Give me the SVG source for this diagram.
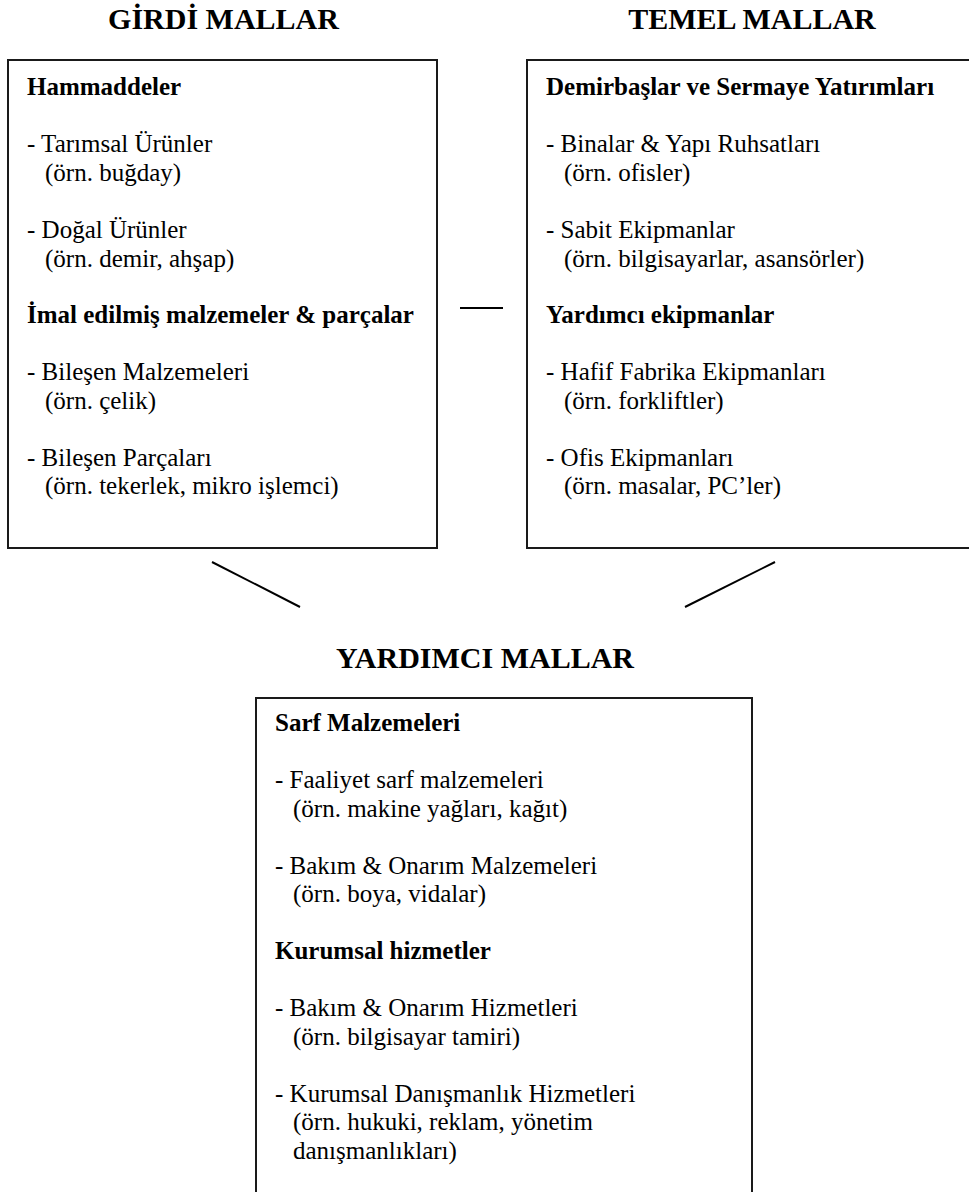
<svg xmlns="http://www.w3.org/2000/svg" width="969" height="1192" viewBox="0 0 969 1192">
<style>
text{font-family:"Liberation Serif","Times New Roman",serif;fill:#000}
.t{font-size:30px;font-weight:bold;text-anchor:middle}
.h{font-size:25px;font-weight:bold}
.b{font-size:25px}
.box{fill:#fff;stroke:#1a1a1a;stroke-width:2}
.ln{stroke:#000;stroke-width:2;fill:none}
</style>
<rect width="969" height="1192" fill="#fff"/>
<g id="girdi">
<text class="t" x="223.5" y="29">GİRDİ MALLAR</text>
<rect class="box" x="8" y="60" width="429" height="488"/>
<text class="h" x="27" y="95">Hammaddeler</text>
<text class="b" x="27" y="152">- Tarımsal Ürünler</text>
<text class="b" x="45" y="180.5">(örn. buğday)</text>
<text class="b" x="27" y="238">- Doğal Ürünler</text>
<text class="b" x="45" y="266.5">(örn. demir, ahşap)</text>
<text class="h" x="27" y="323">İmal edilmiş malzemeler &amp; parçalar</text>
<text class="b" x="27" y="380">- Bileşen Malzemeleri</text>
<text class="b" x="45" y="408.5">(örn. çelik)</text>
<text class="b" x="27" y="465.5">- Bileşen Parçaları</text>
<text class="b" x="45" y="494">(örn. tekerlek, mikro işlemci)</text>
</g>
<g id="temel">
<text class="t" x="752" y="29">TEMEL MALLAR</text>
<rect class="box" x="527" y="60" width="470" height="488"/>
<text class="h" x="546" y="95">Demirbaşlar ve Sermaye Yatırımları</text>
<text class="b" x="546" y="152">- Binalar &amp; Yapı Ruhsatları</text>
<text class="b" x="564" y="180.5">(örn. ofisler)</text>
<text class="b" x="546" y="238">- Sabit Ekipmanlar</text>
<text class="b" x="564" y="266.5">(örn. bilgisayarlar, asansörler)</text>
<text class="h" x="546" y="323">Yardımcı ekipmanlar</text>
<text class="b" x="546" y="380">- Hafif Fabrika Ekipmanları</text>
<text class="b" x="564" y="408.5">(örn. forkliftler)</text>
<text class="b" x="546" y="465.5">- Ofis Ekipmanları</text>
<text class="b" x="564" y="494">(örn. masalar, PC’ler)</text>
</g>
<g id="yardimci">
<text class="t" x="485" y="668">YARDIMCI MALLAR</text>
<rect class="box" x="256" y="698" width="496" height="520"/>
<text class="h" x="275" y="731">Sarf Malzemeleri</text>
<text class="b" x="275" y="788">- Faaliyet sarf malzemeleri</text>
<text class="b" x="293" y="816.5">(örn. makine yağları, kağıt)</text>
<text class="b" x="275" y="873.5">- Bakım &amp; Onarım Malzemeleri</text>
<text class="b" x="293" y="902">(örn. boya, vidalar)</text>
<text class="h" x="275" y="959">Kurumsal hizmetler</text>
<text class="b" x="275" y="1016">- Bakım &amp; Onarım Hizmetleri</text>
<text class="b" x="293" y="1044.5">(örn. bilgisayar tamiri)</text>
<text class="b" x="275" y="1101.5">- Kurumsal Danışmanlık Hizmetleri</text>
<text class="b" x="293" y="1130">(örn. hukuki, reklam, yönetim</text>
<text class="b" x="293" y="1158.5">danışmanlıkları)</text>
</g>
<g id="connectors">
<line class="ln" x1="460" y1="308" x2="503" y2="308"/>
<line class="ln" x1="212" y1="562" x2="300" y2="607"/>
<line class="ln" x1="775" y1="562" x2="685" y2="607"/>
</g>
</svg>
